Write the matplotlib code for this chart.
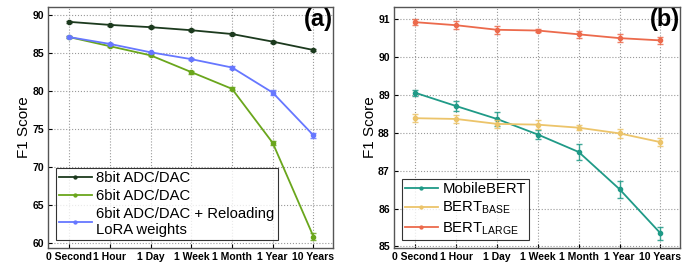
import matplotlib
matplotlib.use("Agg")
import matplotlib.pyplot as plt
import numpy as np

plt.rcParams['font.family'] = ['Liberation Sans', 'DejaVu Sans']

time_labels = ['0 Second', '1 Hour', '1 Day', '1 Week', '1 Month', '1 Year', '10 Years']

# panel (a)
adc8 = [89.1, 88.7, 88.4, 88.0, 87.5, 86.5, 85.4]
adc8_err = [0.1, 0.1, 0.1, 0.1, 0.1, 0.15, 0.15]
adc6 = [87.1, 85.9, 84.7, 82.5, 80.3, 73.2, 60.9]
adc6_err = [0.15, 0.15, 0.15, 0.2, 0.2, 0.3, 0.5]
adc6_reload = [87.1, 86.2, 85.1, 84.2, 83.1, 79.8, 74.2]
adc6_reload_err = [0.1, 0.1, 0.1, 0.15, 0.15, 0.3, 0.35]

# panel (b)
mobilebert = [89.05, 88.7, 88.36, 87.95, 87.49, 86.51, 85.35]
mobilebert_err = [0.08, 0.13, 0.18, 0.12, 0.2, 0.22, 0.17]
bert_base = [88.38, 88.36, 88.23, 88.21, 88.13, 87.98, 87.75]
bert_base_err = [0.1, 0.1, 0.1, 0.12, 0.06, 0.12, 0.1]
bert_large = [90.91, 90.83, 90.71, 90.69, 90.59, 90.49, 90.43]
bert_large_err = [0.08, 0.1, 0.1, 0.05, 0.1, 0.1, 0.1]

x = np.arange(len(time_labels))

fig = plt.figure(figsize=(6.94, 2.7), dpi=100)
ax1 = fig.add_axes([48/694, 22/270, 285/694, 241/270])
ax2 = fig.add_axes([394/694, 22/270, 286/694, 241/270])


def style(ax):
    ax.set_xlim(-0.52, 6.48)
    ax.set_xticks(x)
    ax.set_xticklabels(time_labels, fontsize=7.5, fontweight='bold')
    ax.grid(True, linestyle=':', color='#999999', linewidth=0.8)
    ax.tick_params(direction='in', length=3, width=0.8, pad=3, labelsize=7.5)
    for lab in ax.get_yticklabels():
        lab.set_fontweight('bold')
    for sp in ax.spines.values():
        sp.set_color('#555555')
        sp.set_linewidth(1.0)
    ax.set_ylabel('F1 Score', fontsize=11, labelpad=1)


def series(ax, y, err, color, label):
    ax.errorbar(x, y, yerr=err, fmt='none', ecolor=color, capsize=2.5,
                elinewidth=1.0, capthick=1.0, alpha=0.85)
    ax.plot(x, y, color=color, marker='o', markersize=3, linewidth=1.3,
            label=label)


def legend(ax):
    leg = ax.legend(loc='lower left', fontsize=10.7, frameon=True, fancybox=False,
                    edgecolor='black', borderpad=0.2, labelspacing=0.25,
                    handlelength=2.2, handletextpad=0.3, borderaxespad=0.55,
                    markerscale=0.7)
    leg.get_frame().set_linewidth(0.8)


series(ax1, adc8, adc8_err, '#1c3a1e', '8bit ADC/DAC')
series(ax1, adc6, adc6_err, '#6aa61c', '6bit ADC/DAC')
series(ax1, adc6_reload, adc6_reload_err, '#6677ff', '6bit ADC/DAC + Reloading\nLoRA weights')
ax1.set_ylim(59.4, 91.05)
ax1.set_yticks([60, 65, 70, 75, 80, 85, 90])
style(ax1)
legend(ax1)
ax1.text(1.0, 0.995, '(a)', transform=ax1.transAxes, ha='right', va='top',
         fontsize=17, fontweight='bold')

series(ax2, mobilebert, mobilebert_err, '#1f9a87', 'MobileBERT')
series(ax2, bert_base, bert_base_err, '#ecc46a', r'BERT$_\mathregular{BASE}$')
series(ax2, bert_large, bert_large_err, '#ec6a4c', r'BERT$_\mathregular{LARGE}$')
ax2.set_ylim(84.96, 91.31)
ax2.set_yticks([85, 86, 87, 88, 89, 90, 91])
style(ax2)
legend(ax2)
ax2.text(1.0, 0.995, '(b)', transform=ax2.transAxes, ha='right', va='top',
         fontsize=17, fontweight='bold')

fig.savefig('out.png', dpi=100)
